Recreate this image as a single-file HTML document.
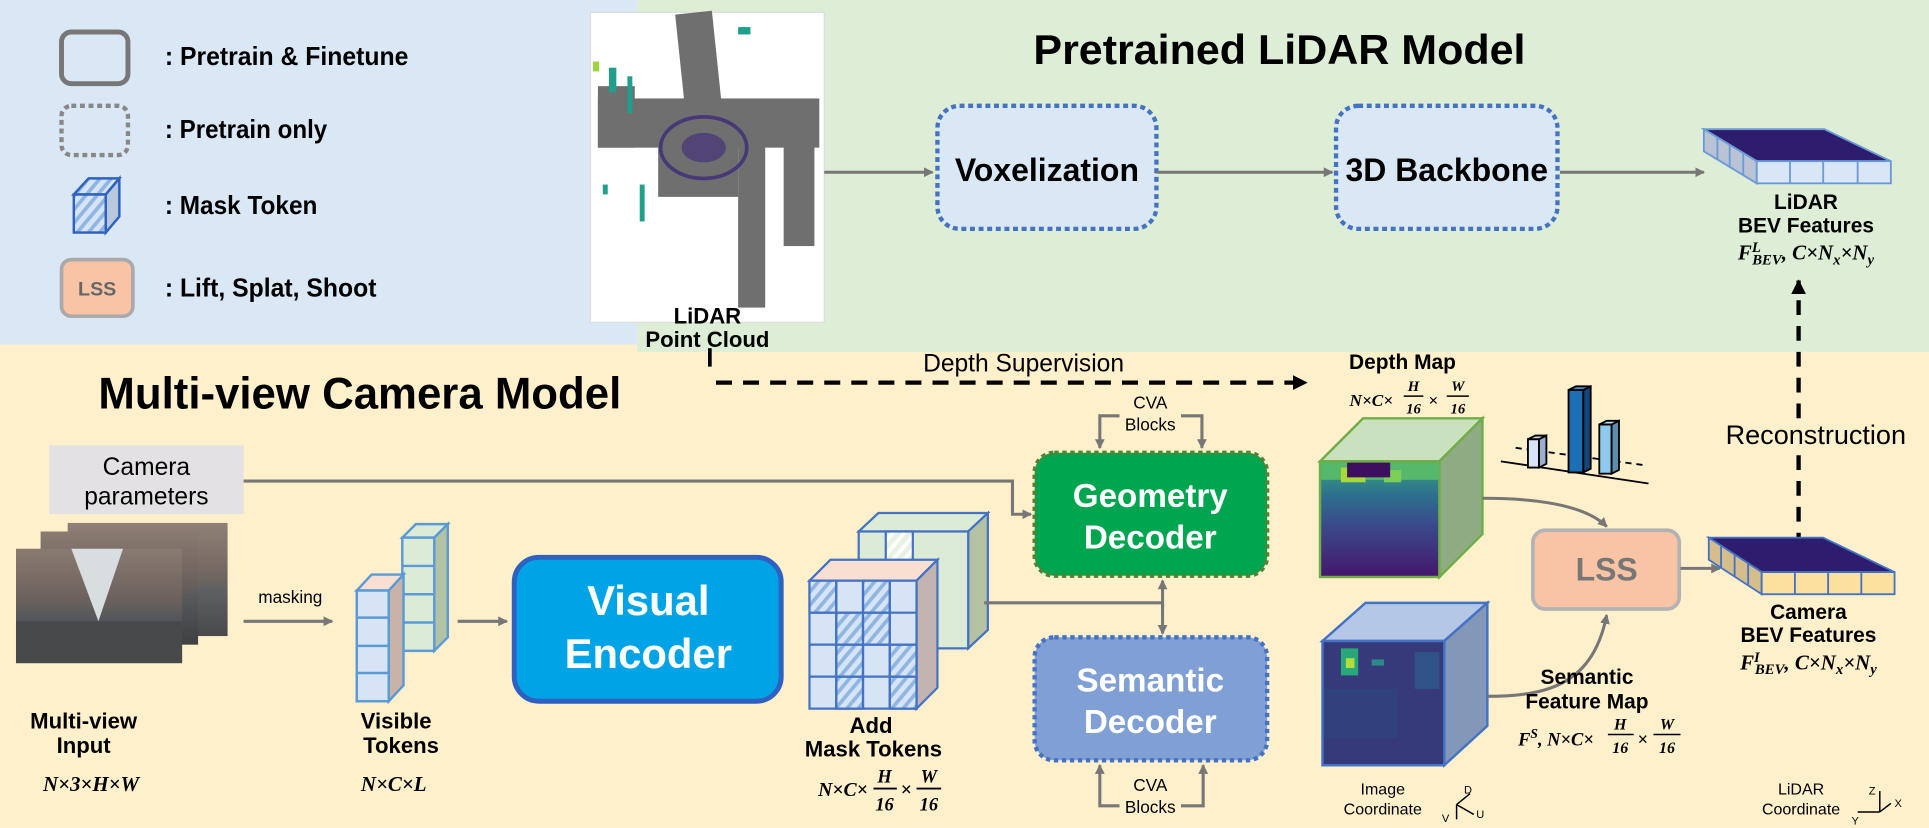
<!DOCTYPE html>
<html><head><meta charset="utf-8"><style>
html,body{margin:0;padding:0;background:#fff;}
svg{display:block;}
text{font-family:"Liberation Sans",sans-serif;}
.b{font-weight:bold;}
.m{font-family:"Liberation Serif",serif;font-style:italic;font-weight:bold;}
</style></head><body>
<svg width="1929" height="828" viewBox="0 0 1568 673" xmlns="http://www.w3.org/2000/svg">
<defs>
<marker id="ag" markerWidth="8" markerHeight="8" refX="7" refY="4" orient="auto" markerUnits="userSpaceOnUse"><path d="M0,0 L8,4 L0,8 z" fill="#777"/></marker>
<marker id="ak" markerWidth="12" markerHeight="12" refX="11" refY="6" orient="auto" markerUnits="userSpaceOnUse"><path d="M0,0 L12,6 L0,12 z" fill="#000"/></marker>
<pattern id="hb" width="7" height="7" patternUnits="userSpaceOnUse" patternTransform="rotate(40)"><rect width="7" height="7" fill="#d6e4f5"/><rect width="3" height="7" fill="#8fb6e2"/></pattern>
<pattern id="hg" width="7" height="7" patternUnits="userSpaceOnUse" patternTransform="rotate(40)"><rect width="7" height="7" fill="#e8f2e2"/><rect width="3" height="7" fill="#ffffff"/></pattern>
<linearGradient id="dep" x1="0" y1="0" x2="0" y2="1"><stop offset="0" stop-color="#3aa37f"/><stop offset="0.3" stop-color="#2c6f8e"/><stop offset="0.55" stop-color="#3a4a8b"/><stop offset="1" stop-color="#44176c"/></linearGradient>
<linearGradient id="ph" x1="0" y1="0" x2="0" y2="1"><stop offset="0" stop-color="#8a7a72"/><stop offset="0.45" stop-color="#6b615c"/><stop offset="0.6" stop-color="#55585b"/><stop offset="1" stop-color="#3e4043"/></linearGradient>
</defs>

<!-- backgrounds -->
<rect x="0" y="0" width="1568" height="673" fill="#fff0cc"/>
<rect x="518" y="0" width="1050" height="286" fill="#ddedd6"/>
<rect x="0" y="0" width="518" height="280" fill="#dae8f5"/>

<!-- legend -->
<rect x="50" y="26" width="54" height="42" rx="8" fill="none" stroke="#777" stroke-width="4"/>
<text x="134" y="53" class="b" font-size="21" textLength="198" lengthAdjust="spacingAndGlyphs">: Pretrain &amp; Finetune</text>
<rect x="50" y="86" width="54" height="40" rx="8" fill="none" stroke="#888" stroke-width="3.5" stroke-dasharray="4,3"/>
<text x="134" y="112" class="b" font-size="21" textLength="132" lengthAdjust="spacingAndGlyphs">: Pretrain only</text>
<g stroke="#2f62c0" stroke-width="2">
<rect x="60" y="158" width="26" height="31" fill="url(#hb)"/>
<path d="M60,158 L72,145 L97,145 L86,158 z" fill="url(#hb)"/>
<path d="M86,158 L97,145 L97,176 L86,189 z" fill="#b9c9dd"/>
</g>
<text x="134" y="174" class="b" font-size="21" textLength="124" lengthAdjust="spacingAndGlyphs">: Mask Token</text>
<rect x="50" y="211" width="58" height="46" rx="8" fill="#f9c4a5" stroke="#aaa" stroke-width="3"/>
<text x="79" y="240" class="b" font-size="16" fill="#666" text-anchor="middle">LSS</text>
<text x="134" y="241" class="b" font-size="21" textLength="172" lengthAdjust="spacingAndGlyphs">: Lift, Splat, Shoot</text>

<!-- titles -->
<text x="1040" y="52" class="b" font-size="34" text-anchor="middle" textLength="400" lengthAdjust="spacingAndGlyphs">Pretrained LiDAR Model</text>
<text x="80" y="332" class="b" font-size="36" textLength="425" lengthAdjust="spacingAndGlyphs">Multi-view Camera Model</text>

<!-- point cloud -->
<rect x="480" y="10" width="190" height="252" fill="#fff" stroke="#ddd"/>
<g fill="#6f6f6f">
<rect x="555" y="10" width="30" height="120" transform="rotate(-6 570 70)"/>
<rect x="486" y="80" width="180" height="40"/>
<rect x="535" y="90" width="65" height="70"/>
<rect x="600" y="110" width="22" height="140"/>
<rect x="637" y="100" width="25" height="100"/>
<rect x="486" y="70" width="30" height="50"/>
</g>
<ellipse cx="572" cy="120" rx="35" ry="25" fill="none" stroke="#3e2a7a" stroke-width="3" opacity="0.8"/>
<ellipse cx="572" cy="120" rx="18" ry="12" fill="#3e2a7a" opacity="0.6"/>
<g fill="#1fa08a"><rect x="495" y="55" width="6" height="20"/><rect x="510" y="62" width="4" height="30"/><rect x="520" y="150" width="4" height="30"/><rect x="600" y="22" width="10" height="6"/><rect x="490" y="150" width="4" height="8"/></g>
<g fill="#9bd43c"><rect x="482" y="50" width="5" height="8"/></g>
<text x="575" y="263" class="b" font-size="18" text-anchor="middle">LiDAR</text>
<text x="575" y="282" class="b" font-size="18" text-anchor="middle">Point Cloud</text>

<!-- lidar pipeline -->
<line x1="670" y1="140" x2="758" y2="140" stroke="#777" stroke-width="2.5" marker-end="url(#ag)"/>
<rect x="762" y="86" width="178" height="100" rx="18" fill="#dae8f5" stroke="#4472c4" stroke-width="3.5" stroke-dasharray="4,3"/>
<text x="851" y="147" class="b" font-size="26" text-anchor="middle">Voxelization</text>
<line x1="940" y1="140" x2="1083" y2="140" stroke="#777" stroke-width="2.5" marker-end="url(#ag)"/>
<rect x="1086" y="86" width="180" height="100" rx="18" fill="#dae8f5" stroke="#4472c4" stroke-width="3.5" stroke-dasharray="4,3"/>
<text x="1176" y="147" class="b" font-size="26" text-anchor="middle">3D Backbone</text>
<line x1="1268" y1="140" x2="1385" y2="140" stroke="#777" stroke-width="2.5" marker-end="url(#ag)"/>

<!-- lidar BEV -->
<g stroke="#6b9bd6" stroke-width="1.5">
<path d="M1385,105 L1483,105 L1537,131 L1428,131 z" fill="#2e1c6e"/>
<path d="M1385,105 L1428,131 L1428,149 L1385,123 z" fill="#b9c3d3"/>
<rect x="1428" y="131" width="109" height="18" fill="#d9e6f5"/>
<line x1="1455" y1="131" x2="1455" y2="149"/><line x1="1482" y1="131" x2="1482" y2="149"/><line x1="1510" y1="131" x2="1510" y2="149"/>
<line x1="1396" y1="112" x2="1396" y2="130"/><line x1="1406" y1="118" x2="1406" y2="136"/><line x1="1417" y1="124" x2="1417" y2="142"/>
</g>
<text x="1468" y="170" class="b" font-size="17" text-anchor="middle">LiDAR</text>
<text x="1468" y="189" class="b" font-size="17" text-anchor="middle">BEV Features</text>
<text x="1468" y="211" class="m" font-size="17" text-anchor="middle">F<tspan font-size="12" dy="-6">L</tspan><tspan font-size="12" dy="10" dx="-7">BEV</tspan><tspan dy="-4">, C×N</tspan><tspan font-size="12" dy="4">x</tspan><tspan dy="-4">×N</tspan><tspan font-size="12" dy="4">y</tspan></text>

<!-- reconstruction -->
<line x1="1462" y1="445" x2="1462" y2="228" stroke="#000" stroke-width="3.5" stroke-dasharray="12,9" marker-end="url(#ak)"/>
<rect x="1390" y="343" width="175" height="24" fill="#fff0cc"/>
<text x="1476" y="361" font-size="22" text-anchor="middle">Reconstruction</text>

<!-- depth supervision -->
<path d="M577,283 L577,298" stroke="#000" stroke-width="3"/>
<line x1="582" y1="311" x2="1062" y2="311" stroke="#000" stroke-width="3.5" stroke-dasharray="13,9" marker-end="url(#ak)"/>
<text x="832" y="302" font-size="20" text-anchor="middle">Depth Supervision</text>

<!-- camera params -->
<rect x="40" y="362" width="158" height="56" fill="#e3e1e3"/>
<text x="119" y="386" font-size="20" text-anchor="middle">Camera</text>
<text x="119" y="410" font-size="20" text-anchor="middle">parameters</text>
<path d="M198,391 L823,391 L823,418 L838,418" fill="none" stroke="#777" stroke-width="2.5" marker-end="url(#ag)"/>

<!-- multi-view images -->
<rect x="55" y="425" width="130" height="92" fill="url(#ph)" opacity="0.95"/>
<rect x="33" y="432" width="128" height="92" fill="url(#ph)"/>
<rect x="13" y="446" width="135" height="93" fill="url(#ph)"/>
<polygon points="58,446 100,446 80,505" fill="#d8dde0"/>
<rect x="13" y="505" width="135" height="34" fill="#47494b"/>
<text x="68" y="592" class="b" font-size="18" text-anchor="middle">Multi-view</text>
<text x="68" y="612" class="b" font-size="18" text-anchor="middle">Input</text>
<text x="74" y="643" class="m" font-size="17" text-anchor="middle">N×3×H×W</text>

<text x="236" y="490" font-size="14" text-anchor="middle">masking</text>
<line x1="198" y1="505" x2="270" y2="505" stroke="#777" stroke-width="2.5" marker-end="url(#ag)"/>

<!-- visible tokens -->
<g stroke="#5b9bd5" stroke-width="2">
<path d="M327,437 L338,426 L364,426 L353,437 z" fill="#dcebd6"/>
<path d="M353,437 L364,426 L364,518 L353,529 z" fill="#b2c2a2"/>
<rect x="327" y="437" width="26" height="92" fill="#dcebd6"/>
<line x1="327" y1="460" x2="353" y2="460"/><line x1="327" y1="483" x2="353" y2="483"/><line x1="327" y1="506" x2="353" y2="506"/>
<path d="M290,480 L302,467 L328,467 L316,480 z" fill="#f9dfd2"/>
<path d="M316,480 L328,467 L328,557 L316,570 z" fill="#c9b3a8"/>
<rect x="290" y="480" width="26" height="90" fill="#d6e4f5"/>
<line x1="290" y1="502" x2="316" y2="502"/><line x1="290" y1="525" x2="316" y2="525"/><line x1="290" y1="547" x2="316" y2="547"/>
</g>
<text x="322" y="592" class="b" font-size="18" text-anchor="middle">Visible</text>
<text x="326" y="612" class="b" font-size="18" text-anchor="middle">Tokens</text>
<text x="320" y="643" class="m" font-size="17" text-anchor="middle">N×C×L</text>

<line x1="372" y1="505" x2="412" y2="505" stroke="#777" stroke-width="2.5" marker-end="url(#ag)"/>

<!-- visual encoder -->
<rect x="418" y="453" width="217" height="117" rx="20" fill="#00a3e6" stroke="#2f62c0" stroke-width="4"/>
<text x="527" y="500" class="b" font-size="34" fill="#fff" text-anchor="middle">Visual</text>
<text x="527" y="543" class="b" font-size="34" fill="#fff" text-anchor="middle">Encoder</text>

<!-- add mask tokens -->
<g stroke="#4472c4" stroke-width="1.8">
<path d="M698,432 L714,417 L803,417 L787,432 z" fill="#dcebd6"/>
<path d="M787,432 L803,417 L803,512 L787,527 z" fill="#b2c2a2"/>
<rect x="698" y="432" width="89" height="95" fill="#dcebd6"/>
<rect x="720" y="432" width="22" height="24" fill="url(#hg)"/>
</g>
<g stroke="#4472c4" stroke-width="1.8">
<path d="M658,472 L675,455 L762,455 L745,472 z" fill="#f9dfd2"/>
<path d="M745,472 L762,455 L762,559 L745,576 z" fill="#c3b4b0"/>
<rect x="658" y="472" width="87" height="104" fill="#d6e4f5"/>
<rect x="658" y="472" width="21.75" height="26" fill="url(#hb)"/>
<rect x="701.5" y="472" width="21.75" height="26" fill="url(#hb)"/>
<rect x="679.75" y="498" width="21.75" height="26" fill="url(#hb)"/>
<rect x="701.5" y="498" width="21.75" height="26" fill="url(#hb)"/>
<rect x="679.75" y="524" width="21.75" height="26" fill="url(#hb)"/>
<rect x="723.25" y="524" width="21.75" height="26" fill="url(#hb)"/>
<rect x="679.75" y="550" width="21.75" height="26" fill="url(#hb)"/>
<rect x="723.25" y="550" width="21.75" height="26" fill="url(#hb)"/>
<line x1="679.75" y1="472" x2="679.75" y2="576"/><line x1="701.5" y1="472" x2="701.5" y2="576"/><line x1="723.25" y1="472" x2="723.25" y2="576"/>
<line x1="658" y1="498" x2="745" y2="498"/><line x1="658" y1="524" x2="745" y2="524"/><line x1="658" y1="550" x2="745" y2="550"/>
</g>
<text x="708" y="596" class="b" font-size="18" text-anchor="middle">Add</text>
<text x="710" y="615" class="b" font-size="18" text-anchor="middle">Mask Tokens</text>
<text x="665" y="647" class="m" font-size="16">N×C×</text>
<text x="719" y="636" class="m" font-size="15" text-anchor="middle">H</text><line x1="710" y1="641" x2="729" y2="641" stroke="#000" stroke-width="1.5"/><text x="719" y="659" class="m" font-size="15" text-anchor="middle">16</text>
<text x="732" y="647" class="m" font-size="16">×</text>
<text x="755" y="636" class="m" font-size="15" text-anchor="middle">W</text><line x1="745" y1="641" x2="765" y2="641" stroke="#000" stroke-width="1.5"/><text x="755" y="659" class="m" font-size="15" text-anchor="middle">16</text>

<!-- connector to decoders -->
<path d="M800,490 L945,490" stroke="#777" stroke-width="2.5" fill="none"/>
<line x1="945" y1="495" x2="945" y2="472" stroke="#777" stroke-width="2.5" marker-end="url(#ag)"/>
<line x1="945" y1="490" x2="945" y2="515" stroke="#777" stroke-width="2.5" marker-end="url(#ag)"/>

<!-- decoders -->
<rect x="841" y="368" width="189" height="100" rx="16" fill="#00a550" stroke="#548235" stroke-width="3.5" stroke-dasharray="3.5,3"/>
<text x="935" y="412" class="b" font-size="27" fill="#fff" text-anchor="middle">Geometry</text>
<text x="935" y="446" class="b" font-size="27" fill="#fff" text-anchor="middle">Decoder</text>
<rect x="841" y="518" width="189" height="100" rx="16" fill="#7f9fd5" stroke="#4472c4" stroke-width="3.5" stroke-dasharray="3.5,3"/>
<text x="935" y="562" class="b" font-size="27" fill="#fff" text-anchor="middle">Semantic</text>
<text x="935" y="596" class="b" font-size="27" fill="#fff" text-anchor="middle">Decoder</text>

<!-- CVA -->
<text x="935" y="332" font-size="14" text-anchor="middle">CVA</text>
<text x="935" y="350" font-size="14" text-anchor="middle">Blocks</text>
<path d="M910,338 L894,338 L894,364" fill="none" stroke="#777" stroke-width="2.5" marker-end="url(#ag)"/>
<path d="M960,338 L977,338 L977,364" fill="none" stroke="#777" stroke-width="2.5" marker-end="url(#ag)"/>
<text x="935" y="643" font-size="14" text-anchor="middle">CVA</text>
<text x="935" y="661" font-size="14" text-anchor="middle">Blocks</text>
<path d="M910,655 L894,655 L894,622" fill="none" stroke="#777" stroke-width="2.5" marker-end="url(#ag)"/>
<path d="M960,655 L978,655 L978,622" fill="none" stroke="#777" stroke-width="2.5" marker-end="url(#ag)"/>

<!-- depth map cube -->
<g stroke="#70ad47" stroke-width="2">
<path d="M1073,375 L1108,340 L1205,340 L1170,375 z" fill="#c9e2bd"/>
<path d="M1170,375 L1205,340 L1205,434 L1170,469 z" fill="#8fab84"/>
<rect x="1073" y="375" width="97" height="94" fill="url(#dep)"/>
</g>
<rect x="1074" y="376" width="96" height="14" fill="#55b86a"/>
<rect x="1090" y="380" width="20" height="12" fill="#a8d83a"/>
<rect x="1125" y="382" width="14" height="10" fill="#7bcf56"/>
<rect x="1095" y="376" width="35" height="12" fill="#3d0f5e"/>
<text x="1140" y="300" class="b" font-size="17" text-anchor="middle">Depth Map</text>
<text x="1097" y="330" class="m" font-size="14">N×C×</text>
<text x="1149" y="318" class="m" font-size="12" text-anchor="middle">H</text><line x1="1141" y1="322" x2="1157" y2="322" stroke="#000" stroke-width="1.2"/><text x="1149" y="336" class="m" font-size="12" text-anchor="middle">16</text>
<text x="1161" y="330" class="m" font-size="14">×</text>
<text x="1185" y="318" class="m" font-size="12" text-anchor="middle">W</text><line x1="1176" y1="322" x2="1194" y2="322" stroke="#000" stroke-width="1.2"/><text x="1185" y="336" class="m" font-size="12" text-anchor="middle">16</text>

<!-- semantic cube -->
<g stroke="#4472c4" stroke-width="2">
<path d="M1075,521 L1110,490 L1209,490 L1174,521 z" fill="#b4c7e7"/>
<path d="M1174,521 L1209,490 L1209,590 L1174,622 z" fill="#8397b8"/>
<rect x="1075" y="521" width="99" height="101" fill="#363a7a"/>
</g>
<rect x="1076" y="560" width="60" height="40" fill="#30457f" opacity="0.8"/>
<rect x="1090" y="527" width="14" height="22" fill="#28a87a"/>
<rect x="1094" y="535" width="7" height="8" fill="#b6dc3a"/>
<rect x="1115" y="536" width="10" height="5" fill="#2a8a85"/>
<rect x="1150" y="530" width="20" height="30" fill="#2c5e8a" opacity="0.7"/>

<!-- histogram -->
<g stroke="#000" stroke-width="1.5">
<line x1="1220" y1="375" x2="1340" y2="393" />
<line x1="1232" y1="364" x2="1336" y2="378" stroke-dasharray="5,4"/>
<path d="M1242,357 L1251,357 L1251,380 L1242,380 z" fill="#d6e4f5"/>
<path d="M1251,357 L1257,354 L1257,377 L1251,380 z" fill="#9bb0cc"/>
<path d="M1242,357 L1248,354 L1257,354 L1251,357 z" fill="#c6d6ee"/>
<rect x="1275" y="317" width="12" height="67" fill="#1d6fb5"/>
<path d="M1287,317 L1293,314 L1293,381 L1287,384 z" fill="#12457a"/>
<path d="M1275,317 L1281,314 L1293,314 L1287,317 z" fill="#4a8ccf"/>
<rect x="1300" y="345" width="10" height="40" fill="#8ccbef"/>
<path d="M1310,345 L1316,342 L1316,382 L1310,385 z" fill="#5a8fb2"/>
<path d="M1300,345 L1306,342 L1316,342 L1310,345 z" fill="#b5e0f5"/>
</g>

<!-- curved arrows to LSS -->
<path d="M1205,405 C1255,405 1290,412 1306,428" fill="none" stroke="#777" stroke-width="2.5" marker-end="url(#ag)"/>
<path d="M1209,566 C1260,566 1295,555 1306,500" fill="none" stroke="#777" stroke-width="2.5" marker-end="url(#ag)"/>

<!-- LSS -->
<rect x="1246" y="431" width="119" height="64" rx="10" fill="#f9c4a5" stroke="#b3b3b3" stroke-width="3"/>
<text x="1306" y="472" class="b" font-size="26" fill="#777" text-anchor="middle">LSS</text>
<line x1="1366" y1="462" x2="1398" y2="462" stroke="#777" stroke-width="2.5" marker-end="url(#ag)"/>

<!-- camera BEV -->
<g stroke="#4472c4" stroke-width="1.5">
<path d="M1389,437 L1482,437 L1540,465 L1432,465 z" fill="#2e1c6e"/>
<path d="M1389,437 L1432,465 L1432,483 L1389,455 z" fill="#d5be8c"/>
<rect x="1432" y="465" width="108" height="18" fill="#fbe0a0"/>
<line x1="1459" y1="465" x2="1459" y2="483"/><line x1="1486" y1="465" x2="1486" y2="483"/><line x1="1513" y1="465" x2="1513" y2="483"/>
<line x1="1399" y1="443" x2="1399" y2="461"/><line x1="1410" y1="451" x2="1410" y2="469"/><line x1="1421" y1="458" x2="1421" y2="476"/>
</g>
<text x="1470" y="503" class="b" font-size="17" text-anchor="middle">Camera</text>
<text x="1470" y="522" class="b" font-size="17" text-anchor="middle">BEV Features</text>
<text x="1470" y="544" class="m" font-size="17" text-anchor="middle">F<tspan font-size="12" dy="-6">I</tspan><tspan font-size="12" dy="10" dx="-4">BEV</tspan><tspan dy="-4">, C×N</tspan><tspan font-size="12" dy="4">x</tspan><tspan dy="-4">×N</tspan><tspan font-size="12" dy="4">y</tspan></text>

<!-- semantic feature map labels -->
<text x="1290" y="556" class="b" font-size="17" text-anchor="middle">Semantic</text>
<text x="1290" y="576" class="b" font-size="17" text-anchor="middle">Feature Map</text>
<text x="1234" y="606" class="m" font-size="15">F<tspan font-size="11" dy="-6">S</tspan><tspan dy="6">, N×C×</tspan></text>
<text x="1317" y="593" class="m" font-size="13" text-anchor="middle">H</text><line x1="1307" y1="597" x2="1328" y2="597" stroke="#000" stroke-width="1.2"/><text x="1317" y="612" class="m" font-size="13" text-anchor="middle">16</text>
<text x="1331" y="606" class="m" font-size="15">×</text>
<text x="1355" y="593" class="m" font-size="13" text-anchor="middle">W</text><line x1="1344" y1="597" x2="1366" y2="597" stroke="#000" stroke-width="1.2"/><text x="1355" y="612" class="m" font-size="13" text-anchor="middle">16</text>

<!-- coordinates -->
<text x="1124" y="646" font-size="13" text-anchor="middle">Image</text>
<text x="1124" y="662" font-size="13" text-anchor="middle">Coordinate</text>
<g stroke="#000" stroke-width="1.2" fill="none">
<line x1="1184" y1="654" x2="1195" y2="645"/>
<line x1="1184" y1="654" x2="1184" y2="666"/>
<line x1="1184" y1="654" x2="1198" y2="662"/>
</g>
<text x="1190" y="645" font-size="9">D</text><text x="1200" y="665" font-size="9">U</text><text x="1172" y="668" font-size="9">V</text>
<text x="1464" y="646" font-size="13" text-anchor="middle">LiDAR</text>
<text x="1464" y="662" font-size="13" text-anchor="middle">Coordinate</text>
<g stroke="#000" stroke-width="1.2" fill="none">
<line x1="1528" y1="660" x2="1528" y2="643"/>
<line x1="1528" y1="660" x2="1510" y2="660"/>
<line x1="1528" y1="660" x2="1537" y2="653"/>
</g>
<text x="1519" y="646" font-size="9">Z</text><text x="1540" y="656" font-size="9">X</text><text x="1505" y="670" font-size="9">Y</text>
</svg>
</body></html>
